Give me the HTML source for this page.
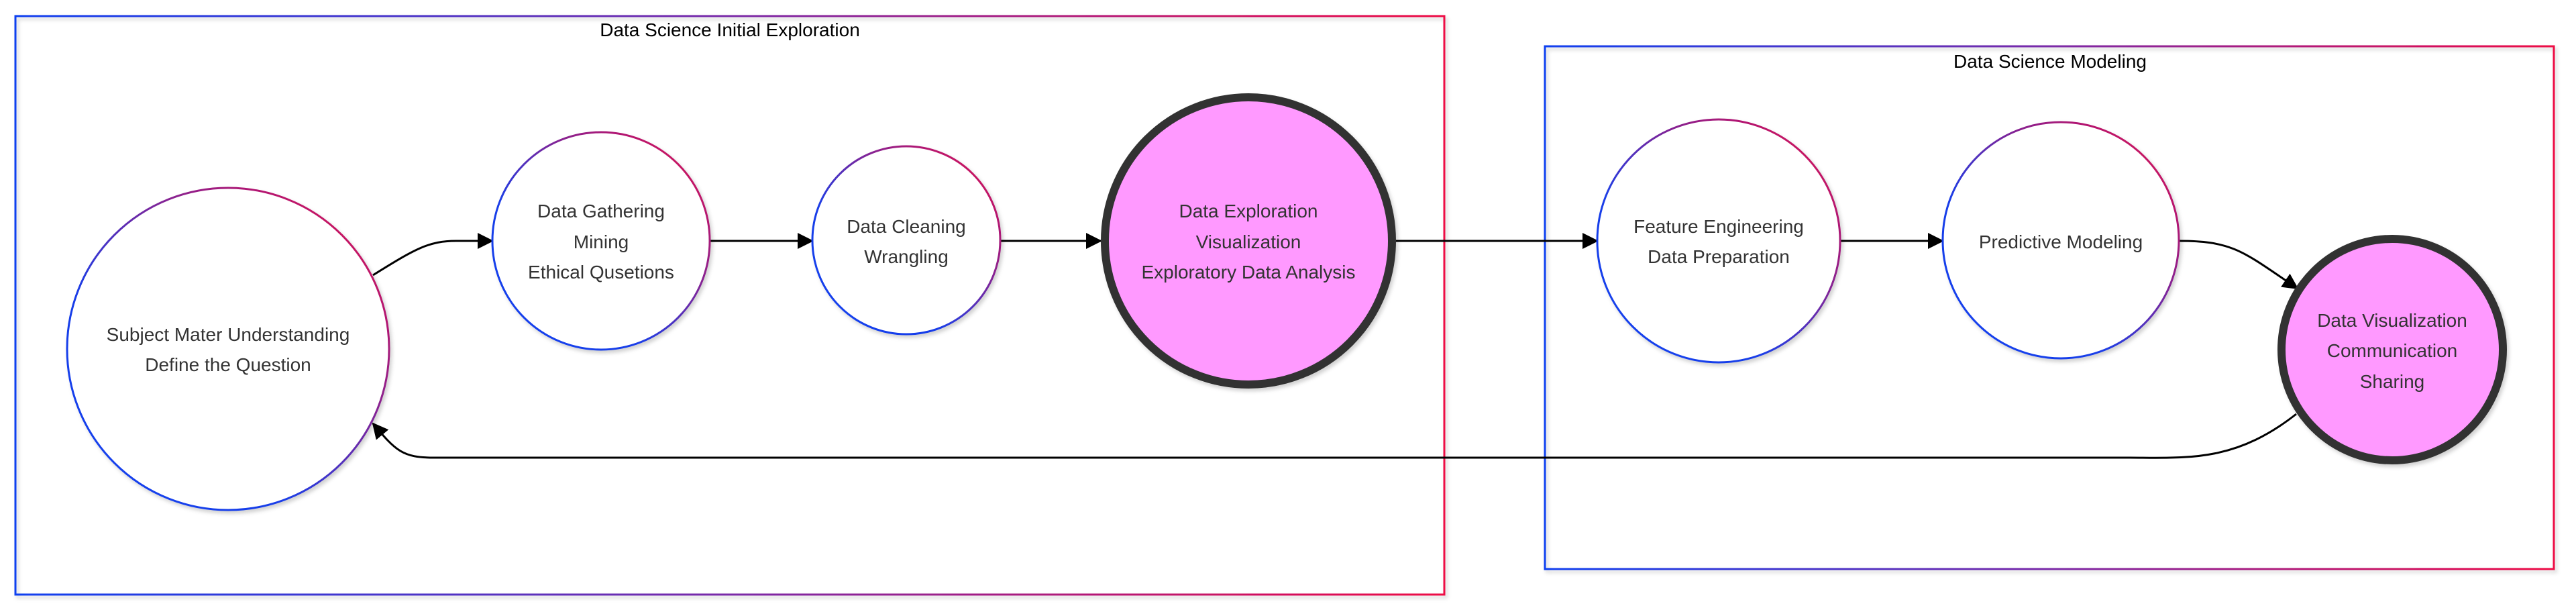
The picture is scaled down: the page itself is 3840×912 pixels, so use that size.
<!DOCTYPE html>
<html><head><meta charset="utf-8"><style>
html,body{margin:0;padding:0;background:#fff;}
svg{display:block;}
text{font-family:"Liberation Sans",Arial,sans-serif;}
</style></head><body>
<svg width="3840" height="912" viewBox="0 0 3840 912" xmlns="http://www.w3.org/2000/svg">
<defs>
<linearGradient id="gb" x1="0" y1="0" x2="1" y2="0">
<stop offset="0" stop-color="#1040f0"/><stop offset="0.5" stop-color="#7a2aa8"/><stop offset="1" stop-color="#ee0845"/>
</linearGradient>
<linearGradient id="gc" x1="0" y1="1" x2="1" y2="0">
<stop offset="0" stop-color="#1040f0"/><stop offset="0.35" stop-color="#1a3ee8"/><stop offset="0.65" stop-color="#8a2290"/><stop offset="1" stop-color="#ee0845"/>
</linearGradient>
<filter id="sh" x="-10%" y="-10%" width="120%" height="120%"><feDropShadow dx="3" dy="4" stdDeviation="3" flood-color="#000" flood-opacity="0.18"/></filter>
<marker id="ah2" markerWidth="24" markerHeight="24" refX="22" refY="12" orient="auto" markerUnits="userSpaceOnUse" viewBox="0 0 24 24">
<path d="M0,0 L24,12 L0,24 z" fill="#000"/></marker>
</defs>

<rect x="23" y="24" width="2130" height="862" fill="none" stroke="url(#gb)" stroke-width="3" filter="url(#sh)"/>
<text x="1088" y="54" font-size="28" text-anchor="middle" fill="#000">Data Science Initial Exploration</text>
<rect x="2303" y="69" width="1504" height="779" fill="none" stroke="url(#gb)" stroke-width="3" filter="url(#sh)"/>
<text x="3056" y="101" font-size="28" text-anchor="middle" fill="#000">Data Science Modeling</text>

<g fill="none" stroke="#000" stroke-width="3">
<path d="M556,410 C620,370 640,359 680,359 L734,359" marker-end="url(#ah2)"/>
<path d="M1057,359 L1211,359" marker-end="url(#ah2)"/>
<path d="M1491,359 L1641,359" marker-end="url(#ah2)"/>
<path d="M2081,359 L2381,359" marker-end="url(#ah2)"/>
<path d="M2743,359 L2896,359" marker-end="url(#ah2)"/>
<path d="M3249,359 C3330,359 3345,376 3425,430" marker-end="url(#ah2)"/>
<path d="M3423,617 C3330,690 3260,682 3170,682 L647,682 C600,682 590,672 556,631" marker-end="url(#ah2)"/>
</g>

<g stroke="url(#gc)" stroke-width="3" fill="#fff" filter="url(#sh)">
<circle cx="340" cy="520" r="240"/>
<circle cx="896" cy="359" r="162"/>
<circle cx="1351" cy="358" r="140"/>
<circle cx="2562" cy="359" r="181"/>
<circle cx="3072" cy="358" r="176"/>
</g>
<g stroke="#333" stroke-width="12" fill="#ff99ff" filter="url(#sh)">
<circle cx="1861" cy="359" r="214"/>
<circle cx="3566" cy="521" r="165"/>
</g>

<g font-size="28" fill="#333" text-anchor="middle">
<text x="340" y="508">Subject Mater Understanding</text>
<text x="340" y="553">Define the Question</text>
<text x="896" y="324">Data Gathering</text>
<text x="896" y="370">Mining</text>
<text x="896" y="415">Ethical Qusetions</text>
<text x="1351" y="347">Data Cleaning</text>
<text x="1351" y="392">Wrangling</text>
<text x="1861" y="324">Data Exploration</text>
<text x="1861" y="370">Visualization</text>
<text x="1861" y="415">Exploratory Data Analysis</text>
<text x="2562" y="347">Feature Engineering</text>
<text x="2562" y="392">Data Preparation</text>
<text x="3072" y="370">Predictive Modeling</text>
<text x="3566" y="487">Data Visualization</text>
<text x="3566" y="532">Communication</text>
<text x="3566" y="578">Sharing</text>
</g>
</svg>
</body></html>
